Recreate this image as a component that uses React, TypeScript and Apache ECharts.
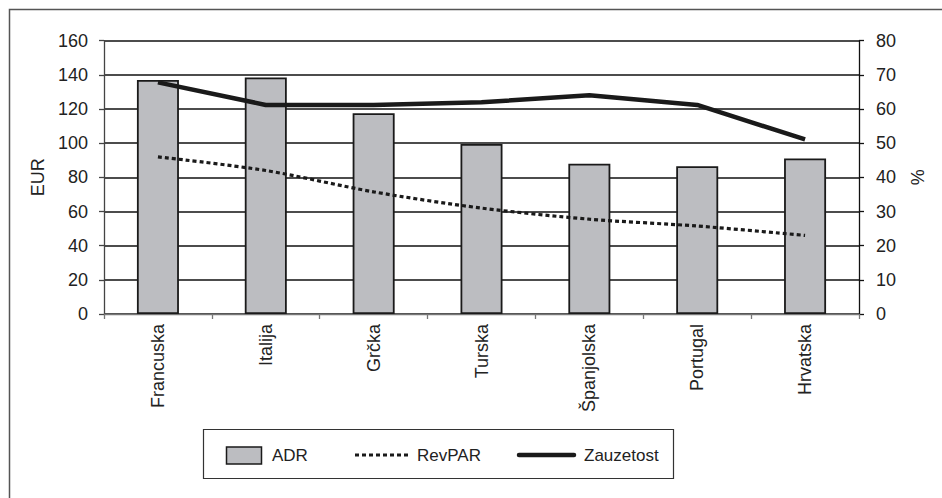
import React, { useEffect, useRef } from "react";
import * as echarts from "echarts";

const categories = ["Francuska", "Italija", "Grčka", "Turska", "Španjolska", "Portugal", "Hrvatska"];
const adr = [137, 138.5, 117.5, 99.5, 88, 86.5, 91];
const revpar = [92, 84, 71.5, 62, 55.5, 51.5, 46];
const zauzetost = [67.8, 61.2, 61.2, 62, 64, 61.2, 51.1];
const leftMax = 160;
const leftInterval = 20;
const rightMax = 80;
const rightInterval = 10;
const seriesNames = ["ADR", "RevPAR", "Zauzetost"];

const FONT = "Liberation Sans, Arial, sans-serif";
const BAR_FILL = "#bcbdc1";
const INK = "#1a1a1a";

export default function App() {
  const ref = useRef<HTMLDivElement>(null);
  useEffect(() => {
    if (!ref.current) return;
    const chart = echarts.init(ref.current, null, { renderer: "svg" });
    const legendY = 455;
    chart.setOption({
      animation: false,
      backgroundColor: "#ffffff",
      textStyle: { fontFamily: FONT },
      grid: { left: 104, right: 83, top: 40.7, bottom: 184, containLabel: false },
      xAxis: {
        type: "category",
        data: categories,
        boundaryGap: true,
        axisLine: { show: true, lineStyle: { color: "#777", width: 1.3 } },
        axisTick: { show: true, length: 5, inside: false, lineStyle: { color: "#777", width: 1.3 } },
        axisLabel: { rotate: 90, margin: 10, fontSize: 18, color: "#222", fontFamily: FONT },
        splitLine: { show: false },
      },
      yAxis: [
        {
          type: "value",
          min: 0,
          max: leftMax,
          interval: leftInterval,
          name: "EUR",
          nameLocation: "middle",
          nameGap: 54,
          nameTextStyle: { fontSize: 18, color: "#222", fontFamily: FONT },
          axisLine: { show: true, lineStyle: { color: "#444", width: 1.3 } },
          axisTick: { show: true, length: 5, lineStyle: { color: "#444", width: 1.3 } },
          axisLabel: { margin: 16, fontSize: 18, color: "#222", fontFamily: FONT },
          splitLine: { show: true, lineStyle: { color: "#111", width: 1.6 } },
        },
        {
          type: "value",
          min: 0,
          max: rightMax,
          interval: rightInterval,
          position: "right",
          name: "%",
          nameLocation: "middle",
          nameGap: 50,
          nameTextStyle: { fontSize: 18, color: "#222", fontFamily: FONT },
          axisLine: { show: true, lineStyle: { color: "#111", width: 1.3 } },
          axisTick: { show: true, length: 5, lineStyle: { color: "#111", width: 1.3 } },
          axisLabel: { margin: 17, fontSize: 18, color: "#222", fontFamily: FONT },
          splitLine: { show: false },
        },
      ],
      series: [
        {
          name: seriesNames[0],
          type: "bar",
          data: adr,
          yAxisIndex: 0,
          barWidth: 42,
          itemStyle: { color: BAR_FILL, borderColor: INK, borderWidth: 1.8 },
          z: 2,
        },
        {
          name: seriesNames[1],
          type: "line",
          data: revpar,
          yAxisIndex: 0,
          symbol: "none",
          smooth: 0.3,
          lineStyle: { color: INK, width: 3.2, type: [4, 3] },
          z: 3,
        },
        {
          name: seriesNames[2],
          type: "line",
          data: zauzetost,
          yAxisIndex: 1,
          symbol: "none",
          lineStyle: { color: INK, width: 4.5 },
          z: 4,
        },
      ],
      graphic: [
        {
          type: "rect",
          shape: { x: 9.5, y: 9.5, width: 1000, height: 1000 },
          style: { fill: "none", stroke: "#555", lineWidth: 1.5 },
          silent: true,
        },
        {
          type: "rect",
          shape: { x: 203.5, y: 429.5, width: 470, height: 49 },
          style: { fill: "#fff", stroke: "#333", lineWidth: 1.2 },
          silent: true,
        },
        {
          type: "rect",
          shape: { x: 226.5, y: 447, width: 35, height: 17 },
          style: { fill: BAR_FILL, stroke: INK, lineWidth: 1.5 },
          silent: true,
        },
        {
          type: "text",
          style: { text: seriesNames[0], x: 272, y: legendY, verticalAlign: "middle", fontSize: 17, fill: "#222", fontFamily: FONT },
          silent: true,
        },
        {
          type: "line",
          shape: { x1: 355, y1: legendY, x2: 408, y2: legendY },
          style: { stroke: INK, lineWidth: 3.2, lineDash: [4, 3] },
          silent: true,
        },
        {
          type: "text",
          style: { text: seriesNames[1], x: 417, y: legendY, verticalAlign: "middle", fontSize: 17, fill: "#222", fontFamily: FONT },
          silent: true,
        },
        {
          type: "line",
          shape: { x1: 519, y1: legendY, x2: 574, y2: legendY },
          style: { stroke: INK, lineWidth: 4.5, lineCap: "round" },
          silent: true,
        },
        {
          type: "text",
          style: { text: seriesNames[2], x: 584, y: legendY, verticalAlign: "middle", fontSize: 17, fill: "#222", fontFamily: FONT },
          silent: true,
        },
      ],
    });
    return () => chart.dispose();
  }, []);
  return (
    <div
      ref={ref}
      style={{ position: "absolute", left: 0, top: 0, width: 942, height: 498, background: "#fff" }}
    />
  );
}
